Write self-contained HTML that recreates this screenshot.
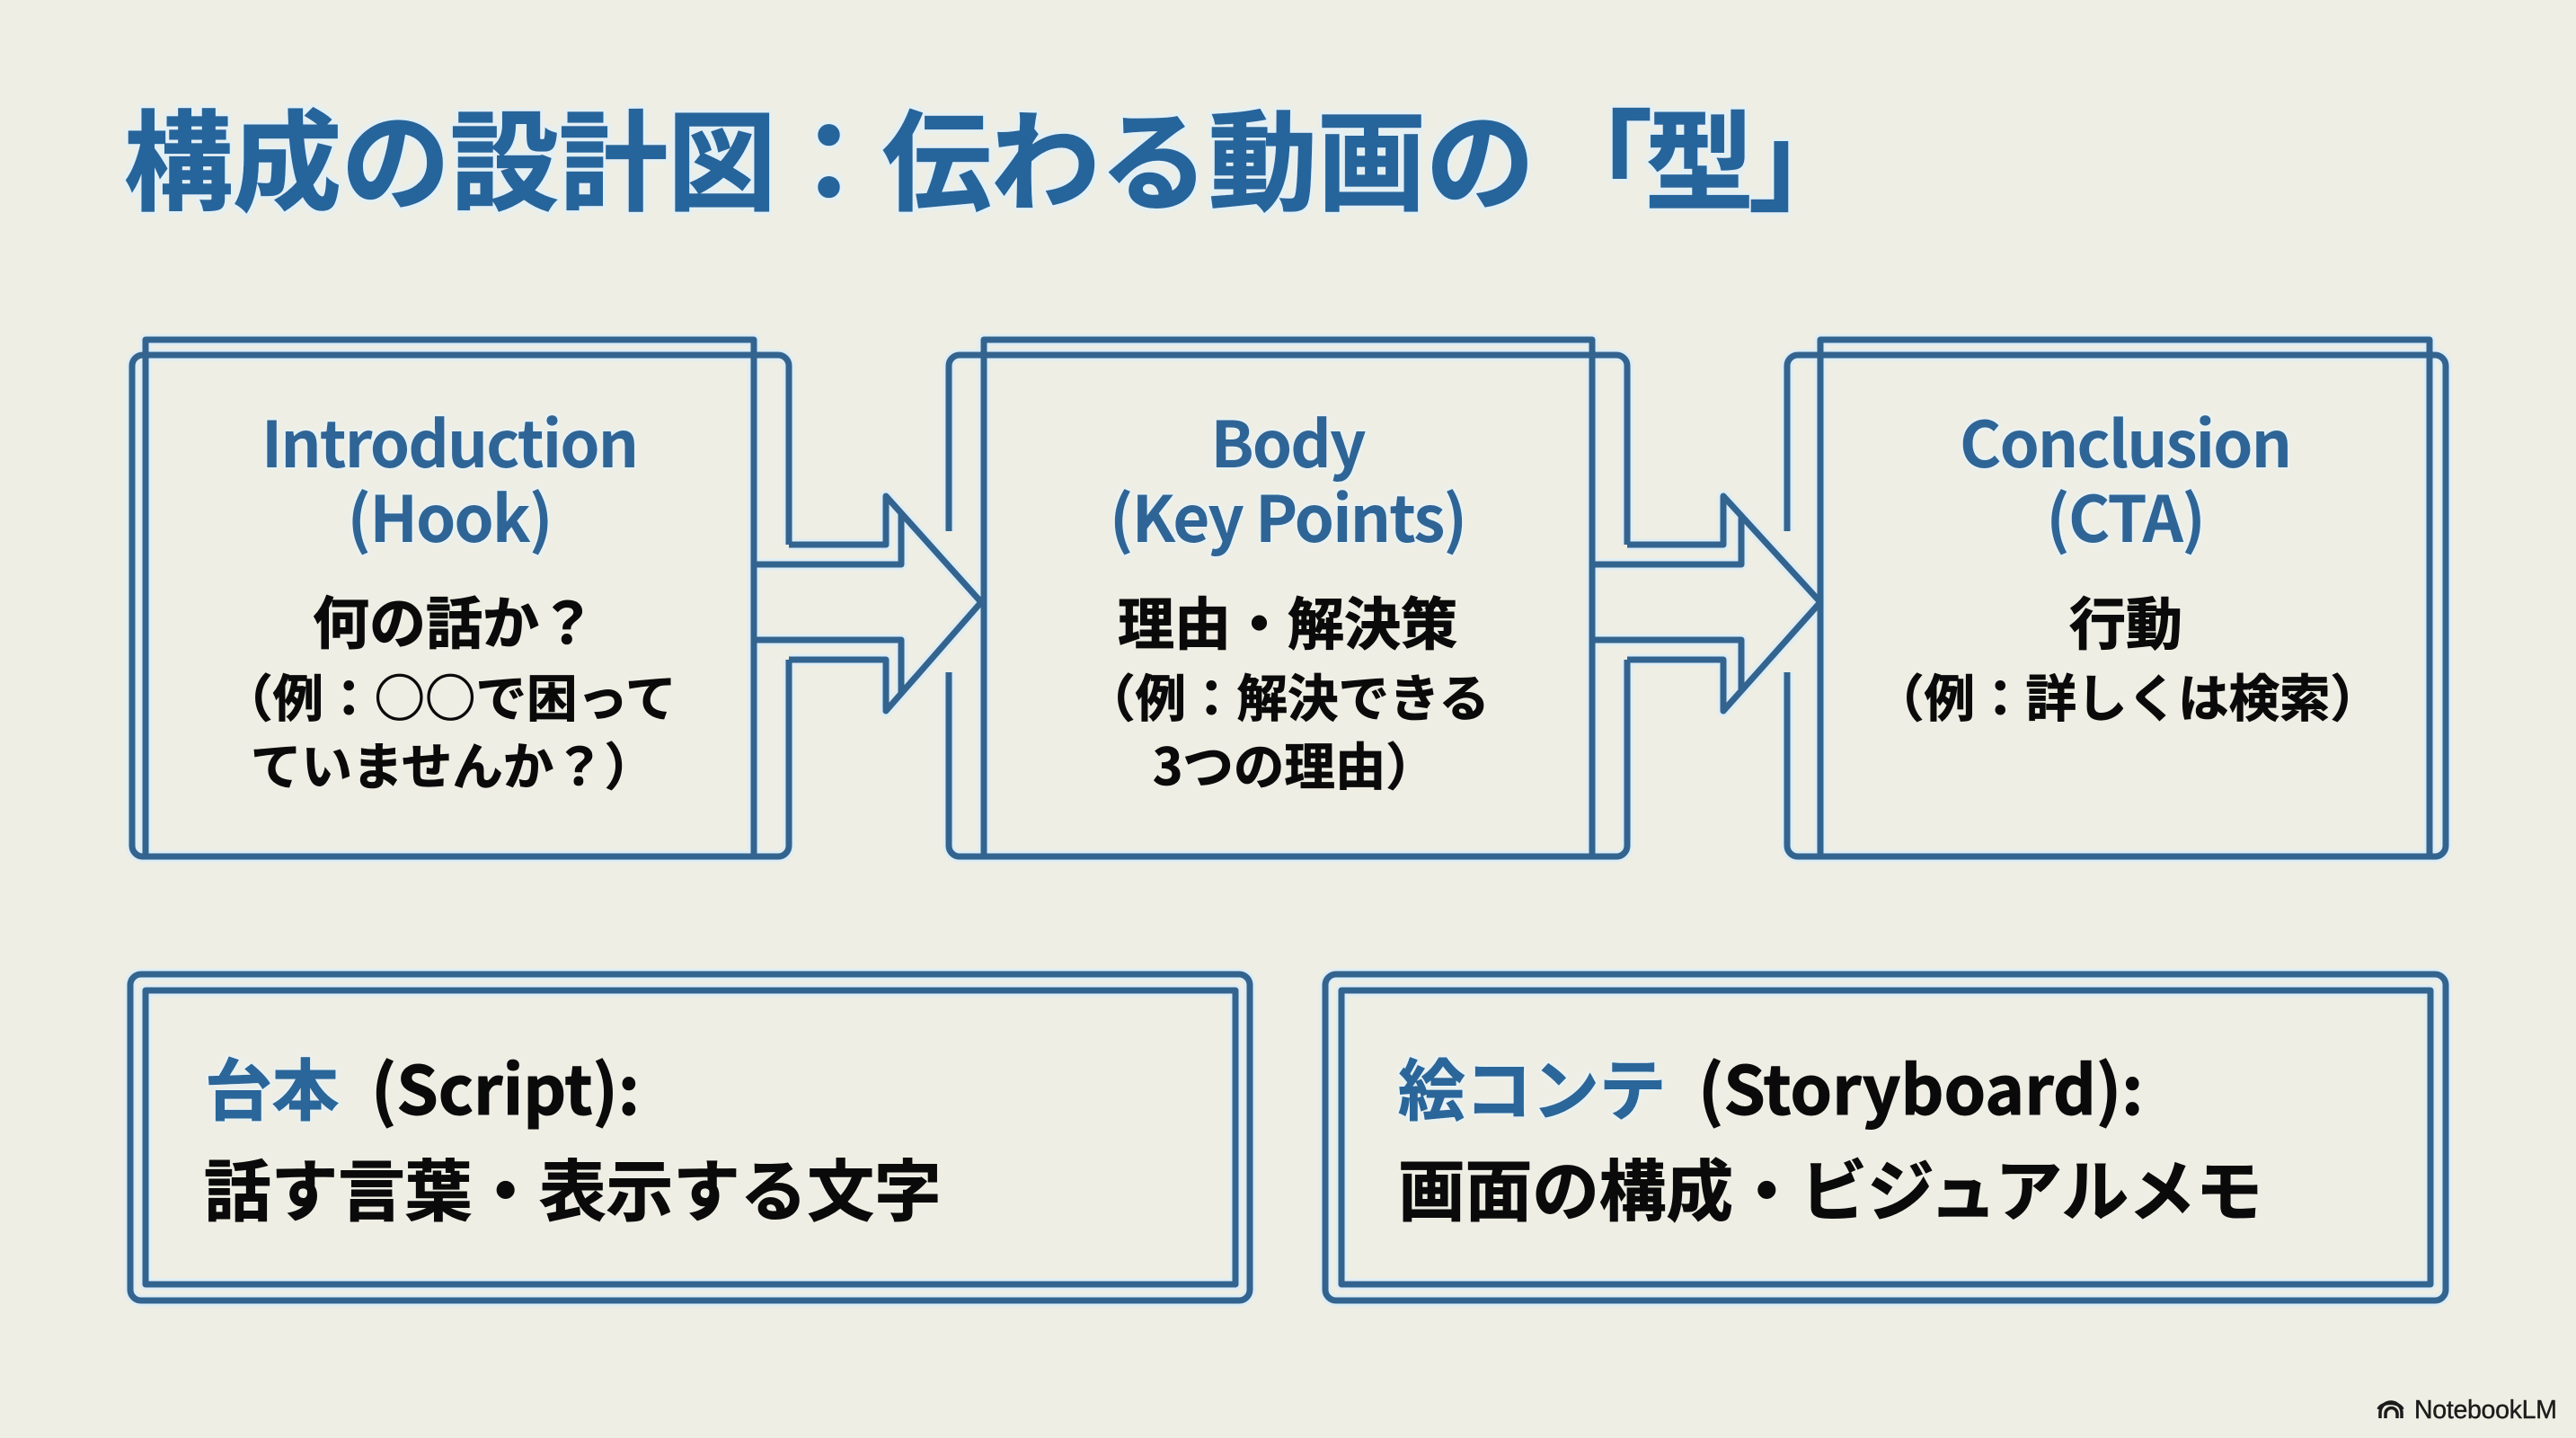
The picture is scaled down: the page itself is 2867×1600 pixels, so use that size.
<!DOCTYPE html>
<html lang="ja"><head><meta charset="utf-8"><title>構成の設計図</title>
<style>
html,body{margin:0;padding:0;background:#eeeee4}
svg{display:block}
text{font-family:"Noto Sans CJK JP","Liberation Sans",sans-serif;font-weight:700}
.t{fill:#27659b;stroke:#27659b;stroke-width:1.5px;font-size:121px;filter:url(#halo)}
.h{fill:#2f6596;font-size:71px;letter-spacing:-2px;text-anchor:middle;filter:url(#halo2)}
.m{fill:#0a0a0a;stroke:#0a0a0a;stroke-width:1px;font-size:63px}
.s{fill:#0a0a0a;stroke:#0a0a0a;stroke-width:.8px;font-size:56.500px}
.b{fill:#0a0a0a;stroke:#0a0a0a;stroke-width:1px;font-size:74.600px}
.bb{fill:#2c6699;stroke:#2c6699;stroke-width:1px;font-size:74.600px;filter:url(#halo2)}
.l{fill:none;stroke-linejoin:round;stroke-linecap:butt}
</style></head><body>
<svg xmlns="http://www.w3.org/2000/svg" width="2867" height="1600" viewBox="0 0 2867 1600">
<defs>
<filter id="halo" x="-5%" y="-10%" width="110%" height="120%">
  <feMorphology in="SourceAlpha" operator="dilate" radius="3"/>
  <feGaussianBlur stdDeviation="1.500" result="d"/>
  <feFlood flood-color="#e2f0f6"/>
  <feComposite in2="d" operator="in"/>
  <feMerge><feMergeNode/><feMergeNode in="SourceGraphic"/></feMerge>
</filter>
<filter id="halo2" x="-5%" y="-10%" width="110%" height="120%">
  <feMorphology in="SourceAlpha" operator="dilate" radius="2"/>
  <feGaussianBlur stdDeviation="1" result="d"/>
  <feFlood flood-color="#e8f2f4"/>
  <feComposite in2="d" operator="in"/>
  <feMerge><feMergeNode/><feMergeNode in="SourceGraphic"/></feMerge>
</filter>
<g id="shapes">
  <!-- box 1 outer -->
  <path d="M878 606V407a12 12 0 0 0-12-12H159a12 12 0 0 0-12 12V941a12 12 0 0 0 12 12H866a12 12 0 0 0 12-12V734"/>
  <rect x="162" y="378" width="677" height="575"/>
  <!-- box 2 outer -->
  <path d="M1056 591V407a12 12 0 0 1 12-12H1799a12 12 0 0 1 12 12V606"/>
  <path d="M1056 748V941a12 12 0 0 0 12 12H1799a12 12 0 0 0 12-12V734"/>
  <rect x="1095" y="378" width="677" height="575"/>
  <!-- box 3 outer -->
  <path d="M1989 591V407a12 12 0 0 1 12-12H2710a12 12 0 0 1 12 12V941a12 12 0 0 1-12 12H2001a12 12 0 0 1-12-12V748"/>
  <rect x="2026" y="378" width="678" height="575"/>
  <!-- arrow 1 -->
  <path d="M878 606H986V552L1092 670L986 791V734H878"/>
  <path d="M839 628H1003V572M839 712H1003V771"/>
  <!-- arrow 2 -->
  <path d="M1811 606H1918V552L2026 670L1918 791V734H1811"/>
  <path d="M1772 628H1938V574M1772 712H1938V768"/>
  <!-- bottom boxes -->
  <rect x="145" y="1084" width="1246" height="363" rx="12"/>
  <rect x="162" y="1102" width="1213" height="327"/>
  <rect x="1475" y="1084" width="1247" height="363" rx="12"/>
  <rect x="1493" y="1102" width="1212" height="327"/>
</g>
</defs>
<rect width="2867" height="1600" fill="#eeeee4"/>
<use href="#shapes" class="l" stroke="#deedf5" stroke-width="13"/>
<use href="#shapes" class="l" stroke="#33648f" stroke-width="7"/>

<text class="t" y="224"><tspan x="138">構成の設計図</tspan><tspan x="862">：</tspan><tspan x="982">伝わる動画の</tspan><tspan x="1718">「</tspan><tspan x="1831">型</tspan><tspan x="1946">」</tspan></text>

<text class="h" x="500" y="520">Introduction</text>
<text class="h" x="500" y="603">(Hook)</text>
<text class="m" x="348" y="716">何の話か？</text>
<text class="s" x="247" y="797">（例：○○で困って</text>
<text class="s" x="279" y="873">ていませんか？）</text>

<text class="h" x="1433" y="520">Body</text>
<text class="h" x="1433" y="603">(Key Points)</text>
<text class="m" x="1244" y="717">理由・解決策</text>
<text class="s" x="1207" y="797">（例：解決できる</text>
<text class="s" x="1283" y="873">3つの理由）</text>

<text class="h" x="2365" y="520">Conclusion</text>
<text class="h" x="2365" y="603">(CTA)</text>
<text class="m" x="2303" y="717">行動</text>
<text class="s" x="2085" y="797">（例：詳しくは検索）</text>

<text class="bb" x="228" y="1240">台本</text>
<text class="b" x="413" y="1240">(Script):</text>
<text class="b" x="227" y="1352">話す言葉・表示する文字</text>

<text class="bb" x="1556" y="1240">絵コンテ</text>
<text class="b" x="1890" y="1240">(Storyboard):</text>
<text class="b" x="1556" y="1352">画面の構成・ビジュアルメモ</text>

<g fill="none" stroke="#1c1c1c" stroke-width="3.500">
  <path d="M2649 1578v-6a12 12 0 0 1 24 0v6"/>
  <path d="M2655 1578v-5a6.500 6.500 0 0 1 13 0v5"/>
  <path d="M2647 1568a14 9 0 0 1 27 0"/>
</g>
<text x="2687" y="1578" style="font-family:'Liberation Sans',sans-serif;font-weight:400;font-size:28.500px;letter-spacing:-.3px;fill:#1c1c1c;stroke:#1c1c1c;stroke-width:.4px">NotebookLM</text>
</svg>
</body></html>
